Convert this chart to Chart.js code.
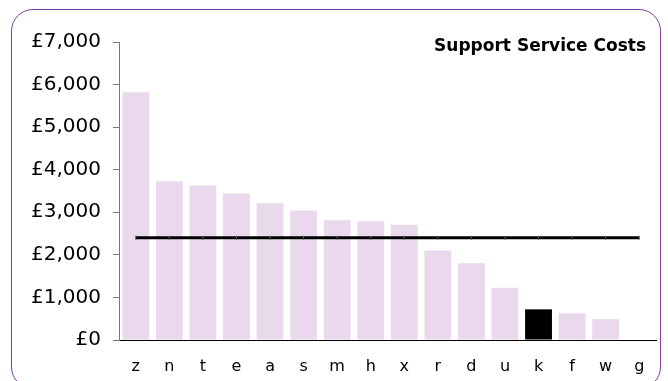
<!DOCTYPE html>
<html>
<head>
<meta charset="utf-8">
<script src="https://cdn.jsdelivr.net/npm/chart.js@4"></script>
<style>
  html, body { margin: 0; padding: 0; background: #fff; }
  #wrap { position: relative; width: 668px; height: 381px; overflow: hidden; }
  #frame {
    position: absolute; left: 11px; top: 9px; width: 648px; height: 378px;
    border: 1.5px solid #7a3fa0; border-radius: 22px; pointer-events: none;
  }
</style>
</head>
<body>
<div id="wrap">
  <canvas id="costs_chart" width="668" height="381"></canvas>
  <div id="frame"></div>
</div>
<script>
var categories = ['z', 'n', 't', 'e', 'a', 's', 'm', 'h', 'x', 'r', 'd', 'u', 'k', 'f', 'w', 'g'];
var costs = [5820, 3730, 3630, 3440, 3210, 3040, 2810, 2790, 2710, 2100, 1800, 1230, 720, 630, 490, 0];
var averageCost = 2400;
var highlighted = 'k';
var yTicks = [0, 1000, 2000, 3000, 4000, 5000, 6000, 7000];

var barColors = categories.map(function (c) {
    return c === highlighted ? '#000000' : '#ead9ec';
});
var averageLine = categories.map(function () { return averageCost; });

// title sits inside the plot, top right
var titlePlugin = {
    id: 'cornerTitle',
    afterDraw: function (chart) {
        var ctx = chart.ctx;
        ctx.save();
        ctx.font = 'bold 17px "DejaVu Sans"';
        ctx.fillStyle = '#000';
        ctx.textAlign = 'right';
        ctx.textBaseline = 'middle';
        ctx.fillText('Support Service Costs', 646, 47);
        ctx.restore();
    }
};

var ctx = document.getElementById('costs_chart').getContext('2d');
var chart = new Chart(ctx, {
    type: 'bar',
    data: {
        labels: categories,
        datasets: [
            {
                type: 'line',
                data: averageLine,
                borderColor: '#000',
                borderWidth: 3,
                pointStyle: 'line',
                rotation: 90,
                pointRadius: 2,
                pointBorderWidth: 1,
                pointBorderColor: '#555',
                order: 0
            },
            {
                data: costs,
                backgroundColor: barColors,
                categoryPercentage: 0.8,
                barPercentage: 1,
                order: 1
            }
        ]
    },
    options: {
        responsive: false,
        animation: false,
        layout: { padding: { top: 42, right: 12, bottom: 0, left: 0 } },
        plugins: {
            legend: { display: false },
            tooltip: { enabled: false }
        },
        scales: {
            x: {
                grid: { display: false, drawTicks: false },
                border: { color: '#000', width: 1 },
                ticks: {
                    color: '#000',
                    padding: 17,
                    font: { family: 'DejaVu Sans', size: 16 }
                },
                afterFit: function (s) { s.height = 41; }
            },
            y: {
                min: 0,
                max: 7000,
                afterBuildTicks: function (s) {
                    s.ticks = yTicks.map(function (v) { return { value: v }; });
                },
                grid: { drawOnChartArea: false, tickLength: 6, color: '#777' },
                border: { color: '#777', width: 1 },
                ticks: {
                    color: '#000',
                    padding: 12,
                    font: { family: 'DejaVu Sans', size: 20 },
                    callback: function (v) { return '£' + v.toLocaleString('en-GB'); }
                },
                afterFit: function (s) { s.width = 119; }
            }
        }
    },
    plugins: [titlePlugin]
});
</script>
</body>
</html>
